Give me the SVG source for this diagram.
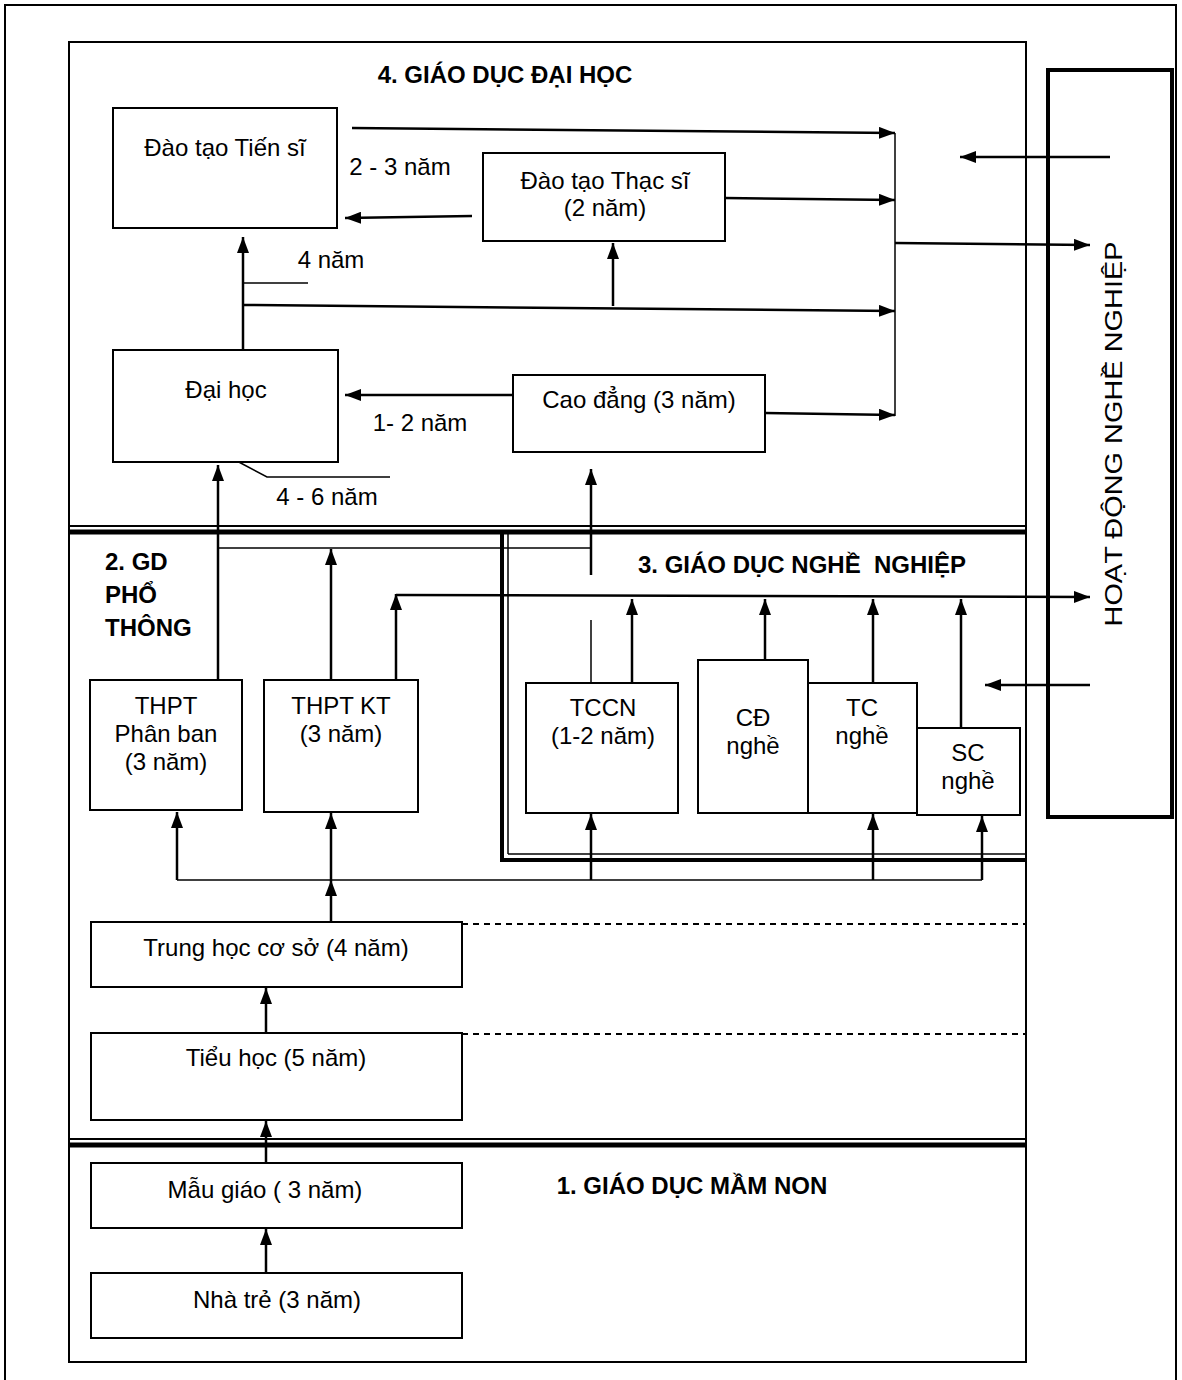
<svg xmlns="http://www.w3.org/2000/svg" width="1182" height="1380" viewBox="0 0 1182 1380">
<defs>
<marker id="ah" viewBox="0 0 16 12" refX="16" refY="6" markerWidth="16" markerHeight="12" orient="auto" markerUnits="userSpaceOnUse"><path d="M0,0 L16,6 L0,12 z" fill="#000"/></marker>
<style>
text{font-family:"Liberation Sans",Arial,sans-serif;font-size:24px;fill:#000}
.c{text-anchor:middle}
.t{font-weight:bold;font-size:24px}
.box{fill:#fff;stroke:#000;stroke-width:2}
.ln{fill:none;stroke:#000;stroke-width:2.5}
.th{fill:none;stroke:#000;stroke-width:1.5}
.ar{fill:none;stroke:#000;stroke-width:2.5;marker-end:url(#ah)}
.dash{fill:none;stroke:#000;stroke-width:2;stroke-dasharray:6 5}
</style>
</defs>
<rect width="1182" height="1380" fill="#fff"/>
<g id="frames">
<rect x="5" y="5" width="1171" height="1390" fill="none" stroke="#000" stroke-width="2"/>
<rect x="69" y="42" width="957" height="1320" fill="none" stroke="#000" stroke-width="2"/>
<line x1="69" y1="526" x2="1026" y2="526" stroke="#000" stroke-width="2"/>
<line x1="69" y1="532" x2="1026" y2="532" stroke="#000" stroke-width="5"/>
<line x1="502" y1="532" x2="502" y2="861" stroke="#000" stroke-width="4"/>
<line x1="508" y1="534" x2="508" y2="854" stroke="#000" stroke-width="1.5"/>
<line x1="508" y1="854" x2="1026" y2="854" stroke="#000" stroke-width="1.5"/>
<line x1="500" y1="860" x2="1026" y2="860" stroke="#000" stroke-width="4"/>
<line x1="69" y1="1139" x2="1026" y2="1139" stroke="#000" stroke-width="2"/>
<line x1="69" y1="1145" x2="1026" y2="1145" stroke="#000" stroke-width="5"/>
</g>
<g id="labels">
<text class="c t" x="505" y="83">4. GIÁO DỤC ĐẠI HỌC</text>
<text class="c" x="400" y="175">2 - 3 năm</text>
<text class="c" x="331" y="268">4 năm</text>
<text class="c" x="420" y="431">1- 2 năm</text>
<text class="c" x="327" y="505">4 - 6 năm</text>
<text class="t" x="105" y="570">2. GD</text>
<text class="t" x="105" y="603">PHỔ</text>
<text class="t" x="105" y="636">THÔNG</text>
<text class="c t" x="802" y="573" style="white-space:pre">3. GIÁO DỤC NGHỀ  NGHIỆP</text>
<text class="c t" x="692" y="1194">1. GIÁO DỤC MẦM NON</text>
</g>
<g id="connectors">
<path class="ar" d="M352,128 L895,133"/>
<path class="th" d="M895,133 L895,416"/>
<path class="ar" d="M725,198 L895,200"/>
<path class="ar" d="M472,216 L345,218"/>
<path class="ar" d="M243,350 L243,237"/>
<path class="th" d="M243,283 L308,283"/>
<path class="ar" d="M243,305 L895,311"/>
<path class="ar" d="M613,306 L613,243"/>
<path class="ar" d="M765,413 L895,415"/>
<path class="ar" d="M895,243 L1090,245"/>
<path class="ar" d="M1110,157 L960,157"/>
<path class="ar" d="M512,395 L345,395"/>
<path class="th" d="M235,460 L267,477 L390,477"/>
<path class="ar" d="M218,680 L218,465"/>
<path class="th" d="M218,548 L591,548"/>
<path class="ar" d="M591,575 L591,469"/>
<path class="ar" d="M331,680 L331,549"/>
<path class="ar" d="M396,680 L396,594"/>
<path class="ar" d="M396,595 L1090,597"/>
<path class="ar" d="M632,683 L632,599"/>
<path class="ar" d="M765,660 L765,599"/>
<path class="ar" d="M873,683 L873,599"/>
<path class="ar" d="M961,728 L961,599"/>
<path class="th" d="M591,620 L591,683"/>
<path class="ar" d="M1090,685 L985,685"/>
<path class="th" d="M177,880 L982,880"/>
<path class="ar" d="M177,880 L177,812"/>
<path class="ar" d="M331,921 L331,880"/>
<path class="ar" d="M331,880 L331,813"/>
<path class="ar" d="M591,880 L591,814"/>
<path class="ar" d="M873,880 L873,814"/>
<path class="ar" d="M982,880 L982,816"/>
<path class="ar" d="M266,1033 L266,988"/>
<path class="ar" d="M266,1163 L266,1121"/>
<path class="ar" d="M266,1273 L266,1229"/>
<path class="dash" d="M462,924 L1026,924"/>
<path class="dash" d="M462,1034 L1026,1034"/>
</g>
<g id="tien-si"><rect class="box" x="113" y="108" width="224" height="120"/><text class="c" x="225" y="156">Đào tạo Tiến sĩ</text></g>
<g id="thac-si"><rect class="box" x="483" y="153" width="242" height="88"/><text class="c" x="605" y="189">Đào tạo Thạc sĩ</text><text class="c" x="605" y="216">(2 năm)</text></g>
<g id="dai-hoc"><rect class="box" x="113" y="350" width="225" height="112"/><text class="c" x="226" y="398">Đại học</text></g>
<g id="cao-dang"><rect class="box" x="513" y="375" width="252" height="77"/><text class="c" x="639" y="408">Cao đẳng (3 năm)</text></g>
<g id="thpt-pb"><rect class="box" x="90" y="680" width="152" height="130"/><text class="c" x="166" y="714">THPT</text><text class="c" x="166" y="742">Phân ban</text><text class="c" x="166" y="770">(3 năm)</text></g>
<g id="thpt-kt"><rect class="box" x="264" y="680" width="154" height="132"/><text class="c" x="341" y="714">THPT KT</text><text class="c" x="341" y="742">(3 năm)</text></g>
<g id="tccn"><rect class="box" x="526" y="683" width="152" height="130"/><text class="c" x="603" y="716">TCCN</text><text class="c" x="603" y="744">(1-2 năm)</text></g>
<g id="cd-nghe"><rect class="box" x="698" y="660" width="110" height="153"/><text class="c" x="753" y="726">CĐ</text><text class="c" x="753" y="754">nghề</text></g>
<g id="tc-nghe"><rect class="box" x="808" y="683" width="109" height="130"/><text class="c" x="862" y="716">TC</text><text class="c" x="862" y="744">nghề</text></g>
<g id="sc-nghe"><rect class="box" x="917" y="728" width="103" height="87"/><text class="c" x="968" y="761">SC</text><text class="c" x="968" y="789">nghề</text></g>
<g id="thcs"><rect class="box" x="91" y="922" width="371" height="65"/><text class="c" x="276" y="956">Trung học cơ sở (4 năm)</text></g>
<g id="tieu-hoc"><rect class="box" x="91" y="1033" width="371" height="87"/><text class="c" x="276" y="1066">Tiểu học (5 năm)</text></g>
<g id="mau-giao"><rect class="box" x="91" y="1163" width="371" height="65"/><text class="c" x="265" y="1198">Mẫu giáo ( 3 năm)</text></g>
<g id="nha-tre"><rect class="box" x="91" y="1273" width="371" height="65"/><text class="c" x="277" y="1308">Nhà trẻ (3 năm)</text></g>
<g id="hoat-dong"><rect x="1048" y="70" width="124" height="747" fill="none" stroke="#000" stroke-width="4"/><text class="c" transform="translate(1122,434) rotate(-90)" font-size="29" textLength="385" lengthAdjust="spacingAndGlyphs">HOẠT ĐỘNG NGHỀ NGHIỆP</text></g>
</svg>
